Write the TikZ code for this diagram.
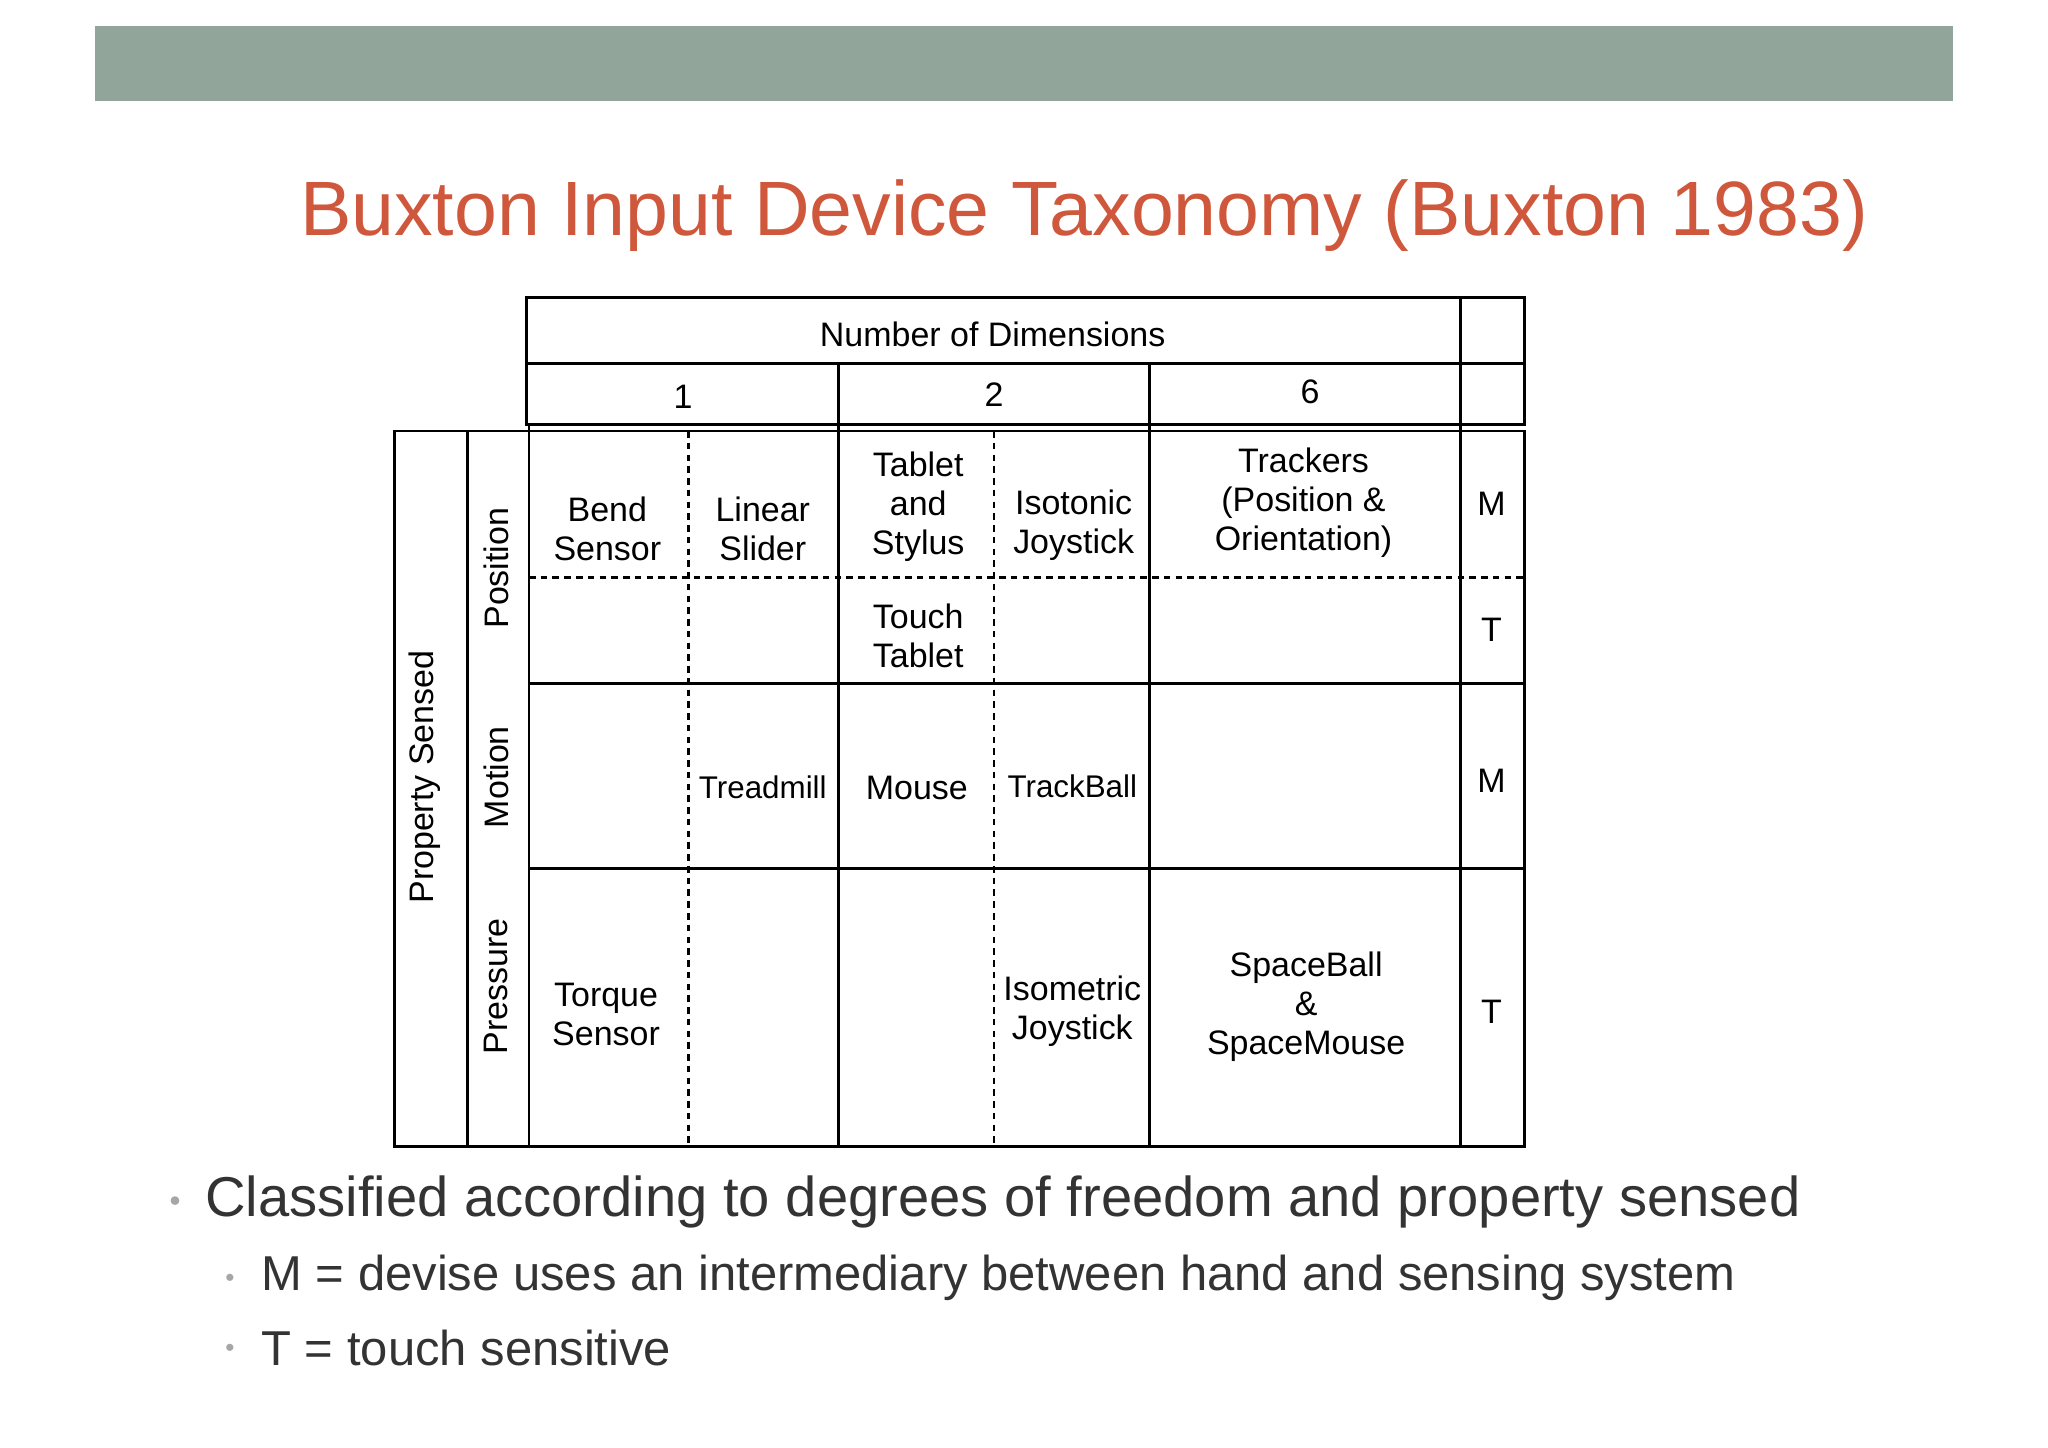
\documentclass[tikz,border=0pt]{standalone}
\usepackage{fontspec}
\setmainfont{Liberation Sans}
\definecolor{barc}{HTML}{92A59A}
\definecolor{titlec}{HTML}{CF573B}
\definecolor{bodyc}{HTML}{333333}
\begin{document}
\begin{tikzpicture}[x=1pt,y=-1pt,
  tl/.style={line width=2.2pt},
  dl/.style={line width=2.2pt,dash pattern=on 5pt off 4pt},
  cell/.style={align=center,font=\fontsize{26}{30}\selectfont,inner sep=0pt},
  vlab/.style={rotate=90,font=\fontsize{26}{30}\selectfont,inner sep=0pt}]
\useasboundingbox (0,0) rectangle (1568,1108);
\fill[barc] (73,20) rectangle (1495,77);
\node[text=titlec,font=\fontsize{59}{66}\selectfont,anchor=center] (title) at (830,165) {Buxton Input Device Taxonomy (Buxton 1983)};
% header
\draw[tl] (403,228) rectangle (1167,325);
\draw[tl] (403,278) -- (1167,278);
\draw[tl] (1118,228) -- (1118,878);
\draw[tl] (642,278) -- (642,878);
\draw[tl] (880,278) -- (880,878);
% body
\draw[tl] (302,330) rectangle (1167,878);
\draw[tl] (358,330) -- (358,878);
\draw[tl] (405,325) -- (405,878);
\draw[tl] (405,523) -- (1167,523);
\draw[tl] (405,665) -- (1167,665);
\draw[dl] (405,442) -- (1167,442);
\draw[dl] (527,330) -- (527,878);
\draw[dl] (761,330) -- (761,878);
% labels
\node[cell] (nd) at (760,256) {Number of Dimensions};
\node[cell] (d1) at (523,304) {1};
\node[cell] (d2) at (761,302) {2};
\node[cell] (d6) at (1003,300) {6};
\node[vlab] (ps) at (325,595) {Property Sensed};
\node[vlab] (pos) at (380,435) {Position};
\node[vlab] (mot) at (380,595) {Motion};
\node[vlab] (pre) at (380,755) {Pressure};
\node[cell] (bend) at (465,405) {Bend\\Sensor};
\node[cell] (lin) at (584,405) {Linear\\Slider};
\node[cell] (tab) at (703,388) {Tablet\\and\\Stylus};
\node[cell] (iso) at (822,402) {Isotonic\\Joystick};
\node[cell] (trk) at (998,385) {Trackers\\(Position \&\\Orientation)};
\node[cell] (m1) at (1142,386) {M};
\node[cell] (tt) at (703,487) {Touch\\Tablet};
\node[cell] (t1) at (1142,482) {T};
\node[cell,font=\fontsize{24}{29}\selectfont] (tread) at (584,603) {Treadmill};
\node[cell] (mouse) at (702,603) {Mouse};
\node[cell,font=\fontsize{24}{29}\selectfont] (tb) at (821,602) {TrackBall};
\node[cell] (m2) at (1142,598) {M};
\node[cell] (torq) at (464,777) {Torque\\Sensor};
\node[cell] (isom) at (821,774) {Isometric\\Joystick};
\node[cell] (sb) at (1000,771) {SpaceBall\\\&\\SpaceMouse};
\node[cell] (t2) at (1142,775) {T};
% bullets
\node[text=gray!70,font=\fontsize{24}{28}\selectfont] (b0) at (134,922) {•};
\node[text=bodyc,anchor=west,font=\fontsize{43}{50}\selectfont,inner sep=0pt] (l1) at (157,920) {Classified according to degrees of freedom and property sensed};
\node[text=gray!70,font=\fontsize{20}{24}\selectfont] (b1) at (176,980) {•};
\node[text=bodyc,anchor=west,font=\fontsize{37.5}{44}\selectfont,inner sep=0pt] (l2) at (200,978) {M = devise uses an intermediary between hand and sensing system};
\node[text=gray!70,font=\fontsize{20}{24}\selectfont] (b2) at (176,1034) {•};
\node[text=bodyc,anchor=west,font=\fontsize{37.5}{44}\selectfont,inner sep=0pt] (l3) at (200,1032) {T = touch sensitive};
\end{tikzpicture}
\end{document}
